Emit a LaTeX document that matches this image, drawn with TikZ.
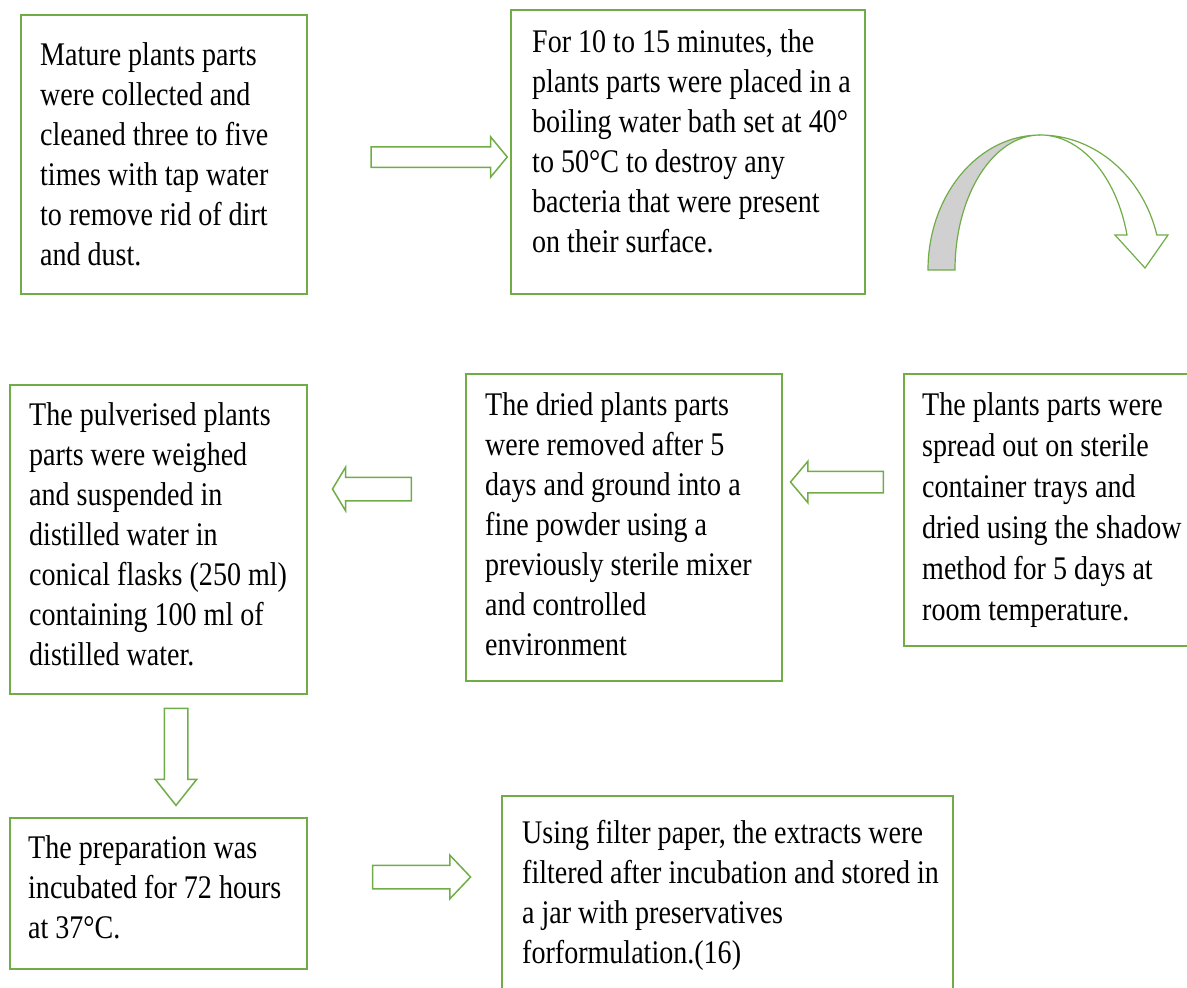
\documentclass[tikz,border=0pt]{standalone}
\usepackage{fontspec}
\setmainfont{Liberation Serif}[FakeStretch=0.85]
\usetikzlibrary{shapes.arrows}
\definecolor{boxgreen}{RGB}{112,173,71}
\definecolor{bendgray}{RGB}{208,208,208}
\newcommand{\fl}{\rule{0pt}{24pt}}
\begin{document}
\begin{tikzpicture}[x=1pt,y=-1pt,
  stepbox/.style={draw=boxgreen, line width=2pt, rectangle, inner sep=0pt, anchor=north west},
  txt/.style={anchor=north west, inner sep=0pt, align=left, font=\fontsize{33}{40}\selectfont},
  barrow/.style={single arrow, draw=boxgreen, line width=1.5pt, fill=white, single arrow head indent=0pt}
]
\useasboundingbox (0,0) rectangle (1187,988);
% boxes
\node[stepbox, minimum width=286pt, minimum height=279pt] (b1) at (20,14) {};
\node[stepbox, minimum width=354pt, minimum height=284pt] (b2) at (510,9) {};
\node[stepbox, minimum width=300pt, minimum height=272pt] (b3) at (903,373) {};
\node[stepbox, minimum width=316pt, minimum height=307pt] (b4) at (465,373) {};
\node[stepbox, minimum width=297pt, minimum height=309pt] (b5) at (9,384) {};
\node[stepbox, minimum width=297pt, minimum height=151pt] (b6) at (9,817) {};
\node[stepbox, minimum width=451pt, minimum height=220pt] (b7) at (501,795) {};
% texts
\node[txt] (t1) at (40,41) {\fl Mature plants parts\\were collected and\\cleaned three to five\\times with tap water\\to remove rid of dirt\\and dust.};
\node[txt] (t2) at (532,28) {\fl For 10 to 15 minutes, the\\plants parts were placed in a\\boiling water bath set at 40°\\to 50°C to destroy any\\bacteria that were present\\on their surface.};
\node[txt, font=\fontsize{33}{41}\selectfont] (t3) at (922,391) {\fl The plants parts were\\spread out on sterile\\container trays and\\dried using the shadow\\method for 5 days at\\room temperature.};
\node[txt] (t4) at (485,391) {\fl The dried plants parts\\were removed after 5\\days and ground into a\\fine powder using a\\previously sterile mixer\\and controlled\\environment};
\node[txt] (t5) at (29,401) {\fl The pulverised plants\\parts were weighed\\and suspended in\\distilled water in\\conical flasks (250 ml)\\containing 100 ml of\\distilled water.};
\node[txt] (t6) at (28,834) {\fl The preparation was\\incubated for 72 hours\\at 37°C.};
\node[txt] (t7) at (522,819) {\fl Using filter paper, the extracts were\\filtered after incubation and stored in\\a jar with preservatives\\forformulation.(16)};
% block arrows
\node[barrow, minimum height=136pt, inner sep=9.5pt, single arrow head extend=10pt, single arrow tip angle=101] (a1) at (435,157) {};
\node[barrow, minimum height=93pt, inner sep=10pt, single arrow head extend=10pt, single arrow tip angle=100, shape border rotate=180] (a2) at (841.5,482) {};
\node[barrow, minimum height=79pt, inner sep=11pt, single arrow head extend=10pt, single arrow tip angle=118, shape border rotate=180] (a3) at (375.5,489) {};
\node[barrow, minimum height=97pt, inner sep=11pt, single arrow head extend=9pt, single arrow tip angle=77, shape border rotate=270] (a4) at (176,749.5) {};
\node[barrow, minimum height=98pt, inner sep=11pt, single arrow head extend=10pt, single arrow tip angle=93] (a5) at (416,877) {};
% curved arrow
\draw[boxgreen, line width=1.2pt, fill=bendgray] (928,270)
  arc[start angle=180, end angle=270, x radius=112, y radius=135]
  arc[start angle=270, end angle=180, x radius=85, y radius=135] -- cycle;
\draw[boxgreen, line width=1.2pt, fill=white] (1040,135)
  arc[start angle=270, end angle=345, x radius=121, y radius=135]
  -- (1168,235) -- (1145,268) -- (1115,235) -- (1127,235)
  arc[start angle=345, end angle=270, x radius=90, y radius=135] -- cycle;
\end{tikzpicture}
\end{document}
